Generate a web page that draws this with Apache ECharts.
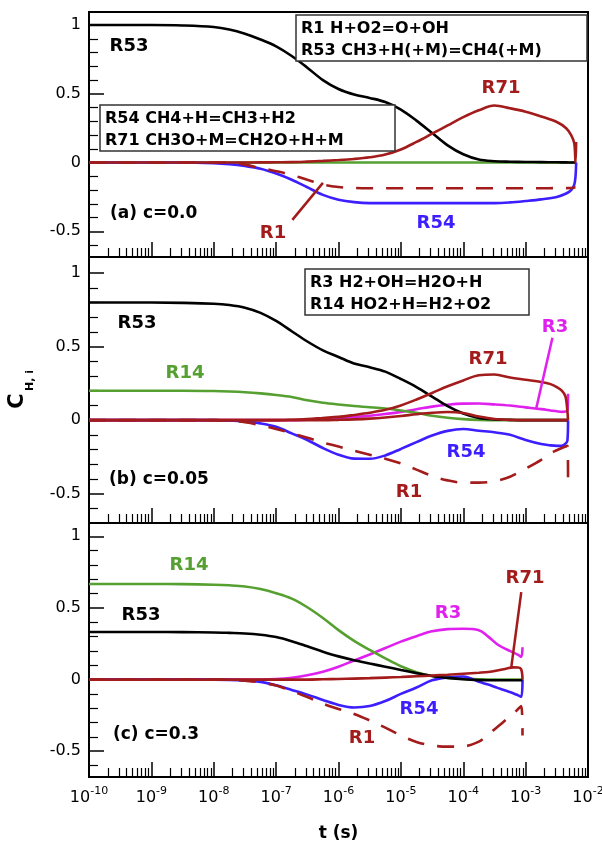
<!DOCTYPE html>
<html>
<head>
<meta charset="utf-8">
<script src="https://cdn.jsdelivr.net/npm/echarts@6.0.0/dist/echarts.min.js"></script>
<style>
  html, body { margin: 0; padding: 0; background: #fff; }
  #chart { width: 602px; height: 846px; }
</style>
</head>
<body>
<div id="chart"></div>
<script>
// x values are log10(t / s)
const logTA = [-10, -9, -8.5, -8, -7.75, -7.5, -7.25, -7, -6.75, -6.5, -6.25, -6, -5.75, -5.5, -5.25, -5, -4.75, -4.5, -4.25, -4, -3.75, -3.5, -3.25, -3, -2.75, -2.5, -2.35, -2.27, -2.22, -2.2, -2.19]
const aR53 = [1, 1, 0.997, 0.986, 0.968, 0.937, 0.895, 0.845, 0.775, 0.69, 0.6, 0.535, 0.495, 0.47, 0.44, 0.385, 0.305, 0.215, 0.125, 0.06, 0.022, 0.01, 0.006, 0.004, 0.003, 0.002, 0.001, 0, 0, 0, 0]
const aR71 = [0, 0, 0, 0, 0, 0, 0.001, 0.002, 0.003, 0.007, 0.012, 0.018, 0.026, 0.038, 0.058, 0.095, 0.15, 0.21, 0.27, 0.33, 0.38, 0.415, 0.395, 0.37, 0.335, 0.295, 0.25, 0.2, 0.14, 0, 0.15]
const aR54 = [0, 0, 0, -0.005, -0.012, -0.025, -0.045, -0.08, -0.125, -0.18, -0.235, -0.27, -0.288, -0.295, -0.295, -0.295, -0.295, -0.295, -0.295, -0.295, -0.295, -0.295, -0.29, -0.28, -0.268, -0.25, -0.225, -0.2, -0.16, -0.1, 0]
const aR1 = [0, 0, 0, 0, 0, -0.015, -0.04, -0.063, -0.09, -0.125, -0.16, -0.178, -0.185, -0.187, -0.187, -0.187, -0.187, -0.187, -0.187, -0.187, -0.187, -0.187, -0.187, -0.187, -0.187, -0.186, -0.186, -0.185, -0.182, -0.18, -0.18]
const aR14T = [-10, -2.19]
const aR14 = [0, 0]

const logTB = [-10, -9, -8.5, -8, -7.75, -7.5, -7.25, -7, -6.75, -6.5, -6.25, -6, -5.75, -5.5, -5.25, -5, -4.75, -4.5, -4.25, -4, -3.75, -3.5, -3.25, -3, -2.75, -2.6, -2.5, -2.42, -2.36, -2.33, -2.32]
const bR53 = [0.8, 0.8, 0.798, 0.792, 0.783, 0.765, 0.73, 0.675, 0.605, 0.535, 0.475, 0.43, 0.385, 0.36, 0.33, 0.28, 0.225, 0.16, 0.095, 0.045, 0.015, 0.005, 0.002, 0, 0, 0, 0, 0, 0, 0, 0]
const bR14 = [0.2, 0.2, 0.2, 0.198, 0.195, 0.19, 0.182, 0.171, 0.157, 0.135, 0.118, 0.106, 0.096, 0.088, 0.079, 0.066, 0.05, 0.03, 0.016, 0.007, 0.002, 0, 0, 0, 0, 0, 0, 0, 0, 0, 0]
const bR3 = [0, 0, 0, 0, 0, 0, 0, 0, 0, 0.003, 0.007, 0.013, 0.021, 0.03, 0.042, 0.056, 0.074, 0.092, 0.105, 0.112, 0.113, 0.107, 0.099, 0.087, 0.075, 0.066, 0.06, 0.056, 0.058, 0.065, 0.18]
const bR71 = [0, 0, 0, 0, 0, 0, 0, 0, 0.003, 0.008, 0.015, 0.022, 0.035, 0.05, 0.07, 0.1, 0.14, 0.185, 0.23, 0.27, 0.305, 0.31, 0.29, 0.275, 0.26, 0.245, 0.225, 0.2, 0.16, 0.06, 0]
const bOther = [0, 0, 0, 0, 0, 0, 0, 0, 0, 0, 0, 0.002, 0.005, 0.01, 0.018, 0.028, 0.04, 0.05, 0.055, 0.048, 0.025, 0.008, 0.002, 0, 0, 0, 0, 0, 0, 0, 0]
const bR54 = [0, 0, 0, 0, -0.003, -0.01, -0.022, -0.045, -0.09, -0.135, -0.19, -0.235, -0.262, -0.263, -0.24, -0.196, -0.15, -0.105, -0.073, -0.06, -0.072, -0.083, -0.1, -0.135, -0.163, -0.172, -0.175, -0.175, -0.16, -0.14, 0]
const bR1 = [0, 0, 0, 0, -0.004, -0.015, -0.034, -0.06, -0.09, -0.12, -0.152, -0.18, -0.208, -0.235, -0.262, -0.295, -0.337, -0.38, -0.41, -0.425, -0.425, -0.415, -0.385, -0.33, -0.27, -0.225, -0.205, -0.19, -0.18, -0.175, -0.39]

const logTC = [-10, -9, -8.5, -8, -7.75, -7.5, -7.25, -7, -6.75, -6.5, -6.25, -6, -5.75, -5.5, -5.25, -5, -4.75, -4.5, -4.25, -4, -3.75, -3.6, -3.45, -3.3, -3.2, -3.12, -3.07, -3.05]
const cR14 = [0.667, 0.667, 0.666, 0.662, 0.658, 0.65, 0.632, 0.603, 0.565, 0.505, 0.43, 0.345, 0.27, 0.207, 0.148, 0.093, 0.052, 0.025, 0.012, 0.005, 0.002, 0, 0, 0, 0, 0, 0, 0]
const cR53 = [0.332, 0.332, 0.331, 0.329, 0.326, 0.322, 0.313, 0.297, 0.268, 0.232, 0.195, 0.162, 0.135, 0.112, 0.09, 0.067, 0.045, 0.025, 0.012, 0.002, -0.004, -0.005, -0.005, -0.005, -0.005, -0.005, -0.005, -0.005]
const cR3 = [0, 0, 0, 0, 0, 0, 0, 0.003, 0.012, 0.03, 0.055, 0.09, 0.133, 0.175, 0.22, 0.265, 0.303, 0.337, 0.352, 0.355, 0.345, 0.3, 0.245, 0.21, 0.19, 0.172, 0.158, 0.225]
const cR54 = [0, 0, 0, 0, -0.002, -0.007, -0.016, -0.04, -0.072, -0.105, -0.142, -0.177, -0.195, -0.185, -0.15, -0.1, -0.055, -0.005, 0.015, 0.022, -0.015, -0.035, -0.058, -0.08, -0.095, -0.11, -0.12, 0]
const cR1 = [0, 0, 0, 0, 0, -0.008, -0.02, -0.042, -0.08, -0.122, -0.168, -0.205, -0.24, -0.285, -0.335, -0.39, -0.435, -0.46, -0.468, -0.466, -0.433, -0.385, -0.33, -0.275, -0.24, -0.205, -0.185, -0.39]
const cR71 = [0, 0, 0, 0, 0, 0, 0, 0, 0, 0, 0.002, 0.004, 0.007, 0.01, 0.014, 0.018, 0.023, 0.028, 0.034, 0.041, 0.048, 0.053, 0.064, 0.078, 0.085, 0.084, 0.07, 0]

// leader lines from labels to curves, [logT, C]
const leaderA = [[-6.74, -0.417], [-6.25, -0.148]]
const leaderB = [[-2.57, 0.56], [-2.83, 0.08]]
const leaderC = [[-3.07, 0.61], [-3.23, 0.086]]

const yMajor = [-0.5, 0, 0.5, 1]
const yMinor = [-0.6, -0.4, -0.3, -0.2, -0.1, 0.1, 0.2, 0.3, 0.4, 0.6, 0.7, 0.8, 0.9]
const yMin = [-0.687, -0.7, -0.68]
const yMax = [1.095, 1.11, 1.093]

const FONT = 'DejaVu Sans'
const BLACK = '#000000'
const RED = '#A31B1B'
const BLUE = '#3C1EFF'
const GREEN = '#55A030'
const MAGENTA = '#E020EE'

// minor log ticks between decades
let minorX = []
for (let n = -10; n < -2; n++) {
  for (let k = 2; k <= 9; k++) minorX.push(n + Math.log10(k))
}

const panels = [
  { top: 12, height: 245 },
  { top: 257, height: 266 },
  { top: 523, height: 254 },
]

let grids = []
let xAxes = []
let yAxes = []
panels.forEach((p, i) => {
  grids.push({
    left: 89, right: 14, top: p.top, height: p.height,
    show: true, borderColor: '#000', borderWidth: 2, backgroundColor: 'transparent',
    outerBoundsMode: 'none', containLabel: false,
  })
  let last = i === 2
  xAxes.push({
    type: 'value', gridIndex: i, min: -10, max: -2, interval: 1, position: 'bottom',
    axisLine: { show: false, onZero: false },
    axisTick: { inside: true, length: 15, lineStyle: { color: '#000', width: 1.5 } },
    splitLine: { show: false },
    axisLabel: last ? {
      show: true, margin: 9, showMinLabel: true, showMaxLabel: true,
      formatter: v => '{b|10}{s|' + Math.round(v) + '}',
      rich: {
        b: { fontFamily: FONT, fontSize: 16, color: '#000', verticalAlign: 'bottom' },
        s: { fontFamily: FONT, fontSize: 11, color: '#000', verticalAlign: 'bottom', padding: [0, 0, 9, 0] },
      },
    } : { show: false },
    name: last ? 't (s)' : '',
    nameLocation: 'middle', nameGap: 48,
    nameTextStyle: { fontFamily: FONT, fontSize: 17, fontWeight: 'bold', color: '#000' },
  })
  xAxes.push({
    type: 'value', gridIndex: i, min: -10, max: -2, position: 'bottom',
    axisLine: { show: false, onZero: false },
    axisTick: { inside: true, length: 9, customValues: minorX, lineStyle: { color: '#000', width: 1.2 } },
    axisLabel: { show: false }, splitLine: { show: false },
  })
  yAxes.push({
    type: 'value', gridIndex: i, min: yMin[i], max: yMax[i], position: 'left',
    axisLine: { show: false, onZero: false },
    axisTick: { inside: true, length: 15, customValues: yMajor, lineStyle: { color: '#000', width: 1.5 } },
    axisLabel: { customValues: yMajor, fontFamily: FONT, fontSize: 16, color: '#000', margin: 8, formatter: v => String(v) },
    splitLine: { show: false },
  })
  yAxes.push({
    type: 'value', gridIndex: i, min: yMin[i], max: yMax[i], position: 'left',
    axisLine: { show: false, onZero: false },
    axisTick: { inside: true, length: 9, customValues: yMinor, lineStyle: { color: '#000', width: 1.2 } },
    axisLabel: { show: false }, splitLine: { show: false },
  })
})

function curve(name, panel, xs, ys, color, dashed, leader) {
  let s = {
    name: name, type: 'line', xAxisIndex: panel * 2, yAxisIndex: panel * 2,
    data: xs.map((x, k) => [x, ys[k]]),
    showSymbol: false, symbol: 'none', silent: true,
    smooth: 0.35,
    lineStyle: { color: color, width: 2.6, type: dashed ? [17, 13] : 'solid' },
    itemStyle: { color: color },
  }
  if (leader) {
    s.markLine = {
      silent: true, symbol: ['none', 'none'], label: { show: false },
      lineStyle: { color: color, width: 2.5, type: 'solid' },
      data: [[{ coord: leader[0] }, { coord: leader[1] }]],
    }
  }
  return s
}

let series = [
  curve('R14', 0, aR14T, aR14, GREEN),
  curve('R54', 0, logTA, aR54, BLUE),
  curve('R53', 0, logTA, aR53, BLACK),
  curve('R71', 0, logTA, aR71, RED),
  curve('R1', 0, logTA, aR1, RED, true, leaderA),

  curve('R3', 1, logTB, bR3, MAGENTA, false, leaderB),
  curve('R14', 1, logTB, bR14, GREEN),
  curve('R54', 1, logTB, bR54, BLUE),
  curve('R53', 1, logTB, bR53, BLACK),
  curve('other', 1, logTB, bOther, RED),
  curve('R71', 1, logTB, bR71, RED),
  curve('R1', 1, logTB, bR1, RED, true),

  curve('R3', 2, logTC, cR3, MAGENTA),
  curve('R14', 2, logTC, cR14, GREEN),
  curve('R54', 2, logTC, cR54, BLUE),
  curve('R53', 2, logTC, cR53, BLACK),
  curve('R71', 2, logTC, cR71, RED, false, leaderC),
  curve('R1', 2, logTC, cR1, RED, true),
]

// curve names written next to the curves
const curveLabels = [
  ['R53', BLACK, 129, 46], ['R71', RED, 501, 88], ['R1', RED, 273, 233], ['R54', BLUE, 436, 223],
  ['R53', BLACK, 137, 323], ['R14', GREEN, 185, 373], ['R71', RED, 488, 359], ['R3', MAGENTA, 555, 327],
  ['R54', BLUE, 466, 452], ['R1', RED, 409, 492],
  ['R14', GREEN, 189, 565], ['R53', BLACK, 141, 615], ['R3', MAGENTA, 448, 613], ['R71', RED, 525, 578],
  ['R54', BLUE, 419, 709], ['R1', RED, 362, 738],
]
const panelTitles = [['(a) c=0.0', 110, 214], ['(b) c=0.05', 109, 480], ['(c) c=0.3', 113, 735]]
const boxes = [
  { x: 296, y: 15, w: 291, h: 46, lines: ['R1 H+O2=O+OH', 'R53 CH3+H(+M)=CH4(+M)'] },
  { x: 100, y: 105, w: 295, h: 46, lines: ['R54 CH4+H=CH3+H2', 'R71 CH3O+M=CH2O+H+M'] },
  { x: 305, y: 269, w: 224, h: 46, lines: ['R3 H2+OH=H2O+H', 'R14 HO2+H=H2+O2'] },
]

let graphic = []
curveLabels.forEach(l => {
  graphic.push({
    type: 'text', x: l[2], y: l[3], z: 100,
    style: { text: l[0], fill: l[1], font: 'bold 18px "DejaVu Sans"', align: 'center', verticalAlign: 'middle' },
  })
})
panelTitles.forEach(t => {
  graphic.push({
    type: 'text', x: t[1], y: t[2], z: 100,
    style: { text: t[0], fill: '#000', font: 'bold 17px "DejaVu Sans"', align: 'left', verticalAlign: 'middle' },
  })
})
boxes.forEach(b => {
  graphic.push({
    type: 'rect', z: 90, shape: { x: b.x, y: b.y, width: b.w, height: b.h },
    style: { fill: '#fff', stroke: '#333', lineWidth: 1.5 },
  })
  b.lines.forEach((line, k) => {
    graphic.push({
      type: 'text', x: b.x + 5, y: b.y + 14 + k * 22, z: 100,
      style: { text: line, fill: '#000', font: 'bold 16px "DejaVu Sans"', align: 'left', verticalAlign: 'middle' },
    })
  })
})
// y axis title C_{H, i}
graphic.push({
  type: 'text', x: 17.5, y: 401, rotation: Math.PI / 2, z: 100,
  style: { text: 'C', fill: '#000', font: 'bold 21px "DejaVu Sans"', align: 'center', verticalAlign: 'middle' },
})
graphic.push({
  type: 'text', x: 30, y: 391, rotation: Math.PI / 2, z: 100,
  style: { text: 'H, i', fill: '#000', font: 'bold 11px "DejaVu Sans"', align: 'left', verticalAlign: 'middle' },
})

let myChart = echarts.init(document.getElementById('chart'))
myChart.setOption({
  animation: false,
  backgroundColor: '#fff',
  textStyle: { fontFamily: FONT },
  grid: grids,
  xAxis: xAxes,
  yAxis: yAxes,
  series: series,
  graphic: { elements: graphic },
})
</script>
</body>
</html>
